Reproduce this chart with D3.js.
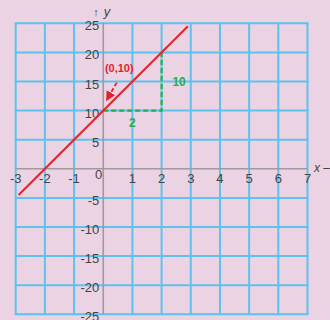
<!DOCTYPE html>
<html>
<head>
<meta charset="utf-8">
<script src="https://cdn.jsdelivr.net/npm/d3@7"></script>
<style>
  html, body { margin: 0; padding: 0; background: #ecd3e3; }
  svg { display: block; }
</style>
</head>
<body>
<div id="chart"></div>
<script>
var width = 330;
var height = 320;

// data
var xTicks = [-3, -2, -1, 1, 2, 3, 4, 5, 6, 7];
var yTicks = [-25, -20, -15, -10, -5, 5, 10, 15, 20, 25];
var xGrid = [-3, -2, -1, 0, 1, 2, 3, 4, 5, 6, 7];
var yGrid = [-25, -20, -15, -10, -5, 0, 5, 10, 15, 20, 25];
var linePoints = [[-2.9, -4.5], [2.9, 24.5]];  // y = 5x + 10
var riseRun = [[0, 10], [2, 10], [2, 20]];
var pointLabel = { text: "(0,10)", x: 0.55, y: 17.3 };
var arrowPts = [[0.46, 14.8], [0.13, 11.9]];
var runLabel = { text: "2", x: 1, y: 7.9 };
var riseLabel = { text: "10", x: 2.6, y: 15 };

var x = d3.scaleLinear().domain([-3, 7]).range([15.7, 307.5]);
var y = d3.scaleLinear().domain([-25, 25]).range([314.3, 23.3]);

var svg = d3.select("#chart").append("svg")
  .attr("width", width)
  .attr("height", height);

var defs = svg.append("defs");
defs.append("marker")
  .attr("id", "head")
  .attr("viewBox", "0 0 10 10")
  .attr("refX", 8).attr("refY", 5)
  .attr("markerWidth", 5.5).attr("markerHeight", 5.5)
  .attr("orient", "auto")
  .append("path")
  .attr("d", "M0,0L10,5L0,10z")
  .attr("fill", "#e3232c");

// grid
svg.append("g").selectAll("line")
  .data(xGrid.filter(function (d) { return d !== 0; }))
  .enter().append("line")
  .attr("x1", function (d) { return x(d); })
  .attr("x2", function (d) { return x(d); })
  .attr("y1", y(25)).attr("y2", y(-25))
  .attr("stroke", "#5cc2ee").attr("stroke-width", 2);

svg.append("g").selectAll("line")
  .data(yGrid.filter(function (d) { return d !== 0; }))
  .enter().append("line")
  .attr("y1", function (d) { return y(d); })
  .attr("y2", function (d) { return y(d); })
  .attr("x1", x(-3) - 1).attr("x2", x(7) + 1)
  .attr("stroke", "#5cc2ee").attr("stroke-width", 2);

// axes
svg.append("line")
  .attr("x1", x(0)).attr("x2", x(0))
  .attr("y1", y(25)).attr("y2", y(-25))
  .attr("stroke", "#a09aa0").attr("stroke-width", 1.6);
svg.append("line")
  .attr("x1", x(-3)).attr("x2", x(7))
  .attr("y1", y(0)).attr("y2", y(0))
  .attr("stroke", "#a09aa0").attr("stroke-width", 1.6);

var font = "'Liberation Sans', Arial, sans-serif";

svg.append("g").selectAll("text")
  .data(xTicks)
  .enter().append("text")
  .attr("x", function (d) { return x(d); })
  .attr("y", y(0) + 10)
  .attr("dy", "0.35em")
  .attr("text-anchor", "middle")
  .attr("font-family", font)
  .attr("font-size", "13px")
  .attr("fill", "#444")
  .text(function (d) { return d; });

svg.append("g").selectAll("text")
  .data(yTicks)
  .enter().append("text")
  .attr("x", x(0) - 4)
  .attr("y", function (d) { return y(d) + 2.5; })
  .attr("dy", "0.35em")
  .attr("text-anchor", "end")
  .attr("font-family", font)
  .attr("font-size", "13px")
  .attr("fill", "#444")
  .text(function (d) { return d; });

svg.append("text")
  .attr("x", x(0) - 4.5).attr("y", y(0) + 6)
  .attr("dy", "0.35em")
  .attr("text-anchor", "middle")
  .attr("font-family", font)
  .attr("font-size", "13px")
  .attr("fill", "#444")
  .text("0");

// axis names
svg.append("text")
  .attr("x", x(0) - 10).attr("y", 16)
  .attr("font-family", font).attr("font-size", "11px").attr("fill", "#444")
  .text("\u2191");
svg.append("text")
  .attr("x", x(0) + 0.5).attr("y", 16)
  .attr("font-family", font).attr("font-size", "13px")
  .attr("font-style", "italic").attr("fill", "#444")
  .text("y");
svg.append("text")
  .attr("x", 314).attr("y", y(0) + 3)
  .attr("font-family", font).attr("font-size", "12px")
  .attr("font-style", "italic").attr("fill", "#444")
  .text("x \u2013");

// green rise/run
svg.append("path")
  .datum(riseRun)
  .attr("d", d3.line().x(function (d) { return x(d[0]); }).y(function (d) { return y(d[1]); }))
  .attr("fill", "none")
  .attr("stroke", "#27ad4c").attr("stroke-width", 2.2)
  .attr("stroke-dasharray", "5,3");

// red line
svg.append("path")
  .datum(linePoints)
  .attr("d", d3.line().x(function (d) { return x(d[0]); }).y(function (d) { return y(d[1]); }))
  .attr("fill", "none")
  .attr("stroke", "#e3232c").attr("stroke-width", 2);

// arrow to point
svg.append("path")
  .datum(arrowPts)
  .attr("d", d3.line().x(function (d) { return x(d[0]); }).y(function (d) { return y(d[1]); }))
  .attr("fill", "none")
  .attr("stroke", "#e3232c").attr("stroke-width", 1.8)
  .attr("stroke-dasharray", "4,2.5")
  .attr("marker-end", "url(#head)");

svg.append("text")
  .attr("x", x(pointLabel.x)).attr("y", y(pointLabel.y))
  .attr("dy", "0.35em").attr("text-anchor", "middle")
  .attr("font-family", font).attr("font-size", "11px").attr("font-weight", "bold")
  .attr("fill", "#e3232c")
  .text(pointLabel.text);

svg.selectAll(".glabel")
  .data([runLabel, riseLabel])
  .enter().append("text")
  .attr("class", "glabel")
  .attr("x", function (d) { return x(d.x); })
  .attr("y", function (d) { return y(d.y); })
  .attr("dy", "0.35em").attr("text-anchor", "middle")
  .attr("font-family", font).attr("font-size", "12px").attr("font-weight", "bold")
  .attr("fill", "#27ad4c")
  .text(function (d) { return d.text; });
</script>
</body>
</html>
